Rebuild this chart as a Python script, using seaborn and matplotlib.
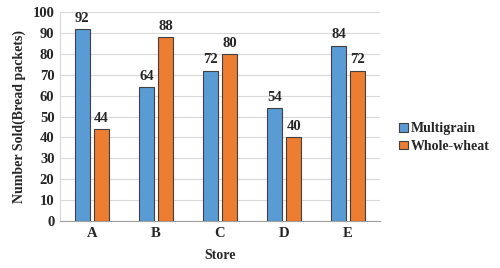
import matplotlib
matplotlib.use("Agg")
import matplotlib.pyplot as plt
import seaborn as sns
import pandas as pd

stores = ["A", "B", "C", "D", "E"]
multigrain = [92, 64, 72, 54, 84]
whole_wheat = [44, 88, 80, 40, 72]
series_names = ["Multigrain", "Whole-wheat"]
colors = ["#5B9BD5", "#ED7D31"]

df = pd.DataFrame({
    "Store": stores * 2,
    "Sold": multigrain + whole_wheat,
    "Type": [series_names[0]] * len(stores) + [series_names[1]] * len(stores),
})

sns.set_style("white")
plt.rcParams["font.family"] = ["Liberation Serif", "DejaVu Serif"]
plt.rcParams["font.weight"] = "bold"

fig = plt.figure(figsize=(5, 2.68), dpi=100)
ax = fig.add_axes([0.12, 0.175, 0.64, 0.78])
sns.barplot(data=df, x="Store", y="Sold", hue="Type", palette=colors,
            saturation=1, width=0.6, gap=0.25, edgecolor="#404040", linewidth=0.8,
            ax=ax, legend=True, zorder=3)

for cont in ax.containers:
    ax.bar_label(cont, padding=3, fontsize=10.5, fontweight="bold")

ax.set_ylim(0, 100)
ax.set_yticks(range(0, 101, 10))
ax.set_xlim(-0.5, 4.5)
ax.yaxis.grid(True, color="#D9D9D9", linewidth=0.8, zorder=0)
ax.set_axisbelow(True)
for s in ["top", "right"]:
    ax.spines[s].set_visible(False)
ax.spines["left"].set_color("#D9D9D9")
ax.spines["bottom"].set_color("#A0A0A0")
ax.tick_params(axis="both", labelsize=10.5, length=0, pad=4)
for lab in ax.get_xticklabels() + ax.get_yticklabels():
    lab.set_fontweight("bold")
ax.set_xlabel("Store", fontsize=10, fontweight="bold", labelpad=7)
ax.set_ylabel("Number Sold(Bread packets)", fontsize=10, fontweight="bold", labelpad=5)

leg = ax.legend(loc="center left", bbox_to_anchor=(1.06, 0.40), frameon=False,
                borderaxespad=0, borderpad=0,
                handlelength=0.6, handleheight=0.6, handletextpad=0.25,
                labelspacing=0.35, prop={"size": 10, "weight": "bold"})

fig.savefig("out.png", dpi=100)
